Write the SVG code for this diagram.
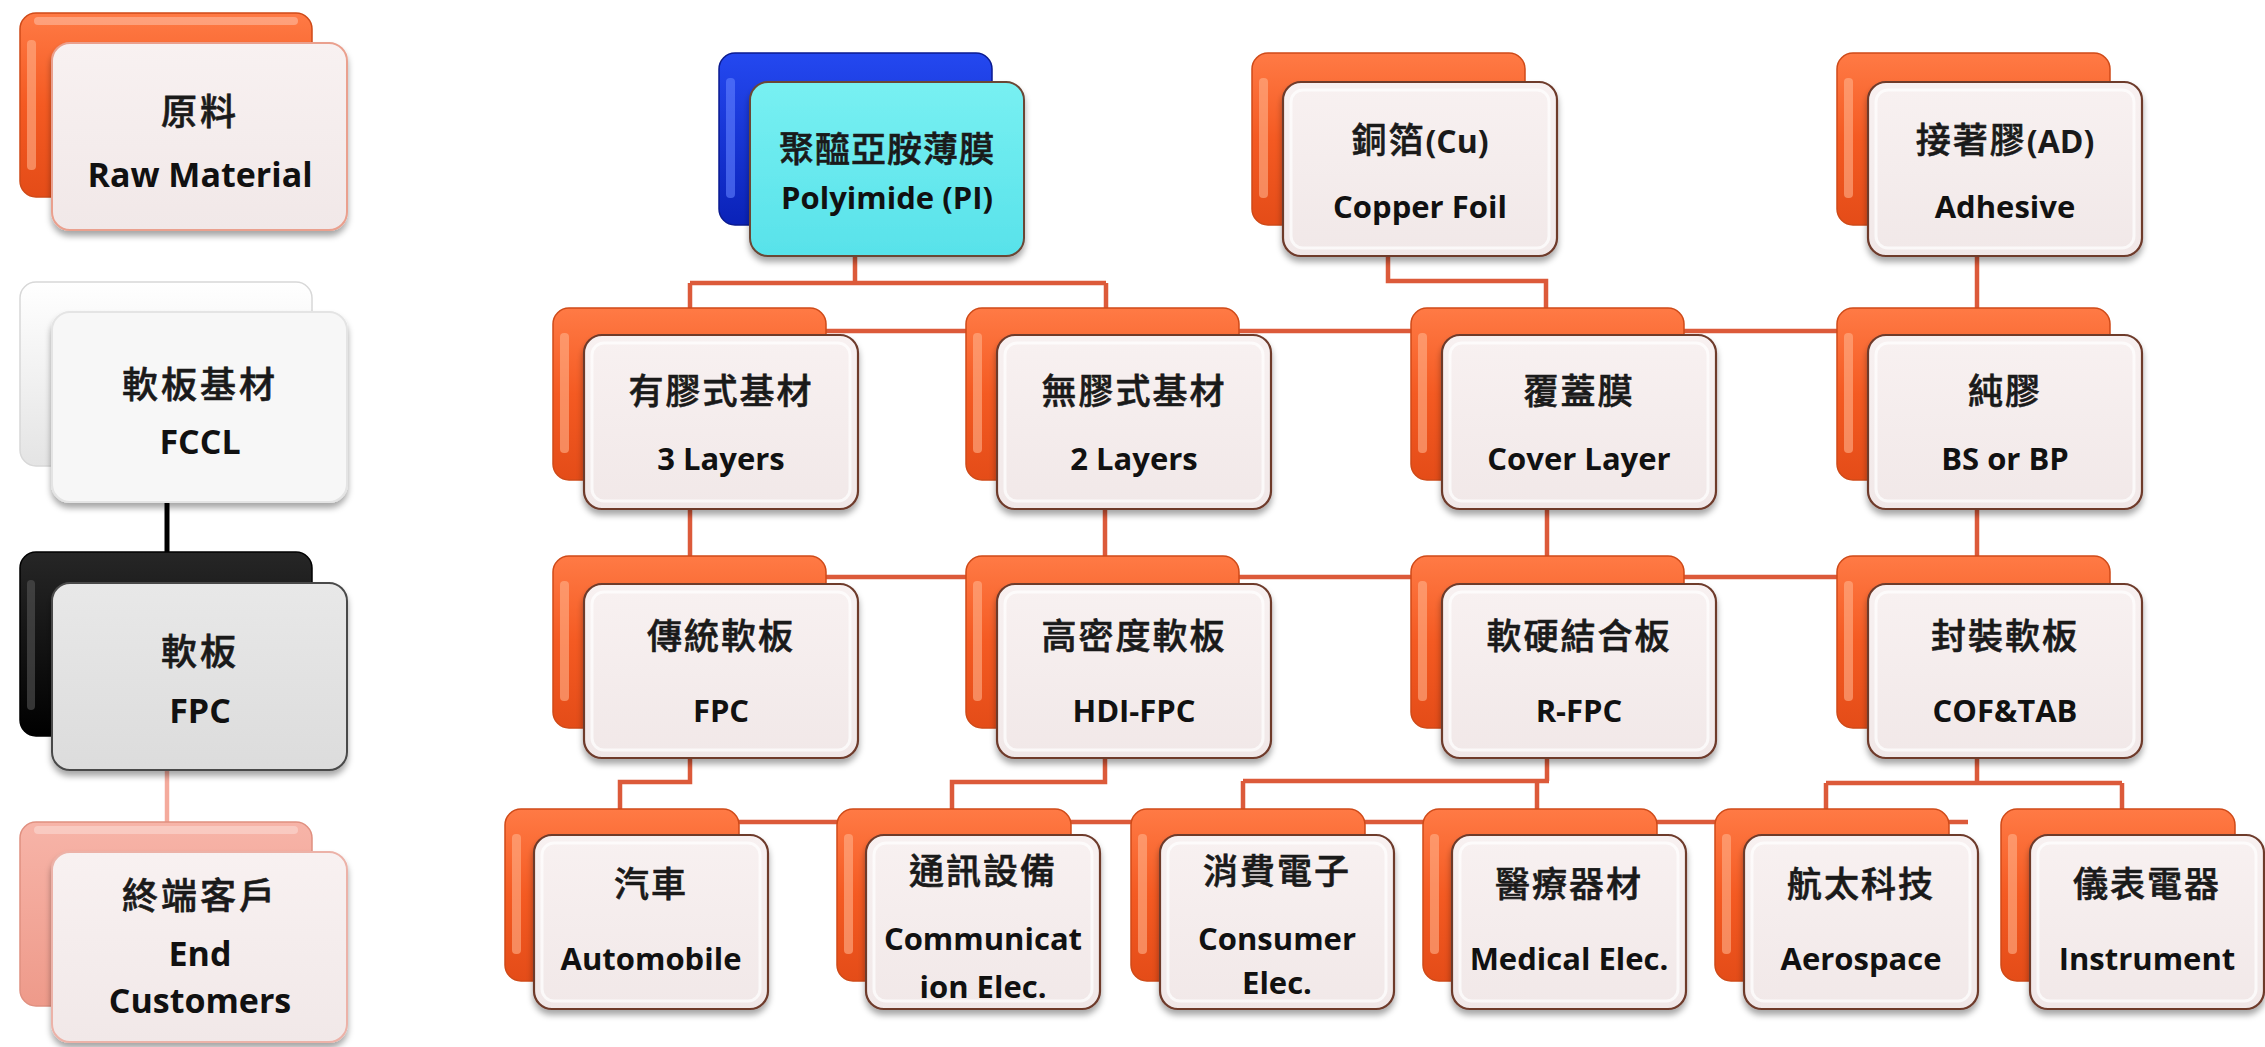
<svg xmlns="http://www.w3.org/2000/svg" width="2265" height="1047" viewBox="0 0 2265 1047">
<defs>
<linearGradient id="gO" x1="0" y1="0" x2="0" y2="1"><stop offset="0" stop-color="#ff7a45"/><stop offset="0.5" stop-color="#f45a22"/><stop offset="1" stop-color="#e44c18"/></linearGradient>
<linearGradient id="gB" x1="0" y1="0" x2="0" y2="1"><stop offset="0" stop-color="#2448f0"/><stop offset="1" stop-color="#0a22b8"/></linearGradient>
<linearGradient id="gW" x1="0" y1="0" x2="0" y2="1"><stop offset="0" stop-color="#ffffff"/><stop offset="1" stop-color="#e4e4e4"/></linearGradient>
<linearGradient id="gK" x1="0" y1="0" x2="0" y2="1"><stop offset="0" stop-color="#262626"/><stop offset="1" stop-color="#000000"/></linearGradient>
<linearGradient id="gP" x1="0" y1="0" x2="0" y2="1"><stop offset="0" stop-color="#f7b4a8"/><stop offset="1" stop-color="#ee9a8a"/></linearGradient>
<linearGradient id="gF" x1="0" y1="0" x2="0" y2="1"><stop offset="0" stop-color="#f8f1f1"/><stop offset="1" stop-color="#f1e8e8"/></linearGradient>
<linearGradient id="gC" x1="0" y1="0" x2="0" y2="1"><stop offset="0" stop-color="#78f0f2"/><stop offset="1" stop-color="#58e2ea"/></linearGradient>
<linearGradient id="gG" x1="0" y1="0" x2="0" y2="1"><stop offset="0" stop-color="#e8e8e8"/><stop offset="1" stop-color="#dcdcdc"/></linearGradient>
<filter id="sh" x="-10%" y="-10%" width="120%" height="130%"><feDropShadow dx="0" dy="5" stdDeviation="3" flood-color="#000" flood-opacity="0.35"/></filter>
</defs>
<style>
.bo{fill:url(#gO);stroke:#cf4a18;stroke-width:1.5}
.bb{fill:url(#gB);stroke:#0a1a90;stroke-width:1.5}
.bw{fill:url(#gW);stroke:#d8d8d8;stroke-width:1.5}
.bk{fill:url(#gK);stroke:#000;stroke-width:1.5}
.bp{fill:url(#gP);stroke:#e09080;stroke-width:1.5}
.hl{fill:#ffffff;opacity:0.3}
.hs{fill:#ffb08a;opacity:0.6}
.f{fill:url(#gF);stroke:#6e3a2c;stroke-width:2.2;filter:url(#sh)}
.fc{fill:url(#gC);stroke:#6a4636;stroke-width:2;filter:url(#sh)}
.fr{fill:url(#gF);stroke:#eaa08e;stroke-width:2;filter:url(#sh)}
.fw{fill:#f7f7f7;stroke:#e4e4e4;stroke-width:2;filter:url(#sh)}
.fg{fill:url(#gG);stroke:#4a4a4a;stroke-width:2;filter:url(#sh)}
.fp{fill:url(#gF);stroke:#ecb2a8;stroke-width:2;filter:url(#sh)}
.in{fill:none;stroke:#ffffff;stroke-width:3;opacity:0.7}
.zh{font-family:"Noto Sans CJK TC","Noto Sans CJK SC",sans-serif;font-size:35px;font-weight:500;fill:#1a1a1a;stroke:#1a1a1a;stroke-width:0.6;text-anchor:middle;letter-spacing:2px}
.zl{font-family:"Noto Sans CJK TC","Noto Sans CJK SC",sans-serif;font-size:36px;font-weight:500;fill:#1a1a1a;stroke:#1a1a1a;stroke-width:0.6;text-anchor:middle;letter-spacing:3px}
.en{font-family:"Open Sans","Liberation Sans",sans-serif;font-weight:700;font-size:31px;fill:#111;text-anchor:middle}
.el{font-family:"Open Sans","Liberation Sans",sans-serif;font-weight:700;font-size:34px;fill:#111;text-anchor:middle}
.lat{font-family:"Open Sans","Liberation Sans",sans-serif;font-weight:700;font-size:32px;letter-spacing:0;stroke:none}
.cn{fill:none;stroke:#dc5a3a;stroke-width:4.5}
</style>
<rect width="2265" height="1047" fill="#ffffff"/>

<g id="connectors">
<path class="cn" d="M855 255 V283 M690 283 H1106 M690 283 V310 M1106 283 V310"/>
<path class="cn" d="M1388 255 V281 H1546 V310"/>
<path class="cn" d="M1977 255 V310"/>
<path class="cn" d="M800 331 H1860"/>
<path class="cn" d="M690 509 V558 M1105 509 V558 M1547 509 V558 M1977 509 V558"/>
<path class="cn" d="M800 577 H1860"/>
<path class="cn" d="M690 758 V782 H620 V811"/>
<path class="cn" d="M1105 758 V782 H952 V811"/>
<path class="cn" d="M1547 758 V781 M1243 781 H1549 M1243 781 V811 M1537 781 V811"/>
<path class="cn" d="M1977 758 V783 M1826 783 H2122 M1826 783 V811 M2122 783 V811"/>
<path class="cn" d="M694 822 H1968"/>
<path d="M167 500 V554" fill="none" stroke="#000" stroke-width="5"/>
<path d="M167 770 V824" fill="none" stroke="#f4aa9c" stroke-width="4.5"/>
</g>

<g id="n-raw">
<rect class="bo" x="20" y="13" width="292" height="184" rx="16"/>
<rect class="hs" x="27" y="40" width="9" height="130" rx="4"/><rect class="hl" x="34" y="17" width="264" height="8" rx="4"/>
<rect class="fr" x="52" y="43" width="295" height="187" rx="18"/>
<text class="zl" x="200" y="125">原料</text>
<text class="el" x="200" y="187">Raw Material</text>
</g>
<g id="n-fccl">
<rect class="bw" x="20" y="282" width="292" height="184" rx="16"/>
<rect class="fw" x="52" y="312" width="295" height="190" rx="18"/>
<text class="zl" x="200" y="398">軟板基材</text>
<text class="el" x="200" y="454">FCCL</text>
</g>
<g id="n-fpc-level">
<rect class="bk" x="20" y="552" width="292" height="184" rx="16"/>
<rect x="27" y="580" width="8" height="130" rx="4" fill="#555" opacity="0.6"/>
<rect class="fg" x="52" y="583" width="295" height="187" rx="18"/>
<text class="zl" x="200" y="665">軟板</text>
<text class="el" x="200" y="723">FPC</text>
</g>
<g id="n-end">
<rect class="bp" x="20" y="822" width="292" height="184" rx="16"/>
<rect class="hl" x="34" y="826" width="264" height="8" rx="4"/>
<rect class="fp" x="52" y="852" width="295" height="190" rx="18"/>
<text class="zl" x="200" y="909">終端客戶</text>
<text class="el" x="200" y="966">End</text>
<text class="el" x="200" y="1013">Customers</text>
</g>

<g id="n-pi">
<rect class="bb" x="719" y="53" width="273" height="172" rx="16"/>
<rect x="726" y="78" width="9" height="120" rx="4" fill="#6080ff" opacity="0.6"/>
<rect class="fc" x="750" y="82" width="274" height="174" rx="18"/>
<text class="zh" x="887" y="162" style="letter-spacing:1px">聚醯亞胺薄膜</text>
<text class="en" x="887" y="209">Polyimide (PI)</text>
</g>
<g id="n-cu">
<rect class="bo" x="1252" y="53" width="273" height="172" rx="16"/>
<rect class="hs" x="1259" y="78" width="9" height="120" rx="4"/>
<rect class="f" x="1283" y="82" width="274" height="174" rx="18"/>
<rect class="in" x="1291" y="90" width="258" height="158" rx="12"/>
<text class="zh" x="1420" y="153">銅箔<tspan class="lat">(Cu)</tspan></text>
<text class="en" x="1420" y="218">Copper Foil</text>
</g>
<g id="n-ad">
<rect class="bo" x="1837" y="53" width="273" height="172" rx="16"/>
<rect class="hs" x="1844" y="78" width="9" height="120" rx="4"/>
<rect class="f" x="1868" y="82" width="274" height="174" rx="18"/>
<rect class="in" x="1876" y="90" width="258" height="158" rx="12"/>
<text class="zh" x="2005" y="153">接著膠<tspan class="lat">(AD)</tspan></text>
<text class="en" x="2005" y="218">Adhesive</text>
</g>

<g id="n-3layers">
<rect class="bo" x="553" y="308" width="273" height="172" rx="16"/>
<rect class="hs" x="560" y="333" width="9" height="120" rx="4"/>
<rect class="f" x="584" y="335" width="274" height="174" rx="18"/>
<rect class="in" x="592" y="343" width="258" height="158" rx="12"/>
<text class="zh" x="721" y="404">有膠式基材</text>
<text class="en" x="721" y="470">3 Layers</text>
</g>
<g id="n-2layers">
<rect class="bo" x="966" y="308" width="273" height="172" rx="16"/>
<rect class="hs" x="973" y="333" width="9" height="120" rx="4"/>
<rect class="f" x="997" y="335" width="274" height="174" rx="18"/>
<rect class="in" x="1005" y="343" width="258" height="158" rx="12"/>
<text class="zh" x="1134" y="404">無膠式基材</text>
<text class="en" x="1134" y="470">2 Layers</text>
</g>
<g id="n-cover">
<rect class="bo" x="1411" y="308" width="273" height="172" rx="16"/>
<rect class="hs" x="1418" y="333" width="9" height="120" rx="4"/>
<rect class="f" x="1442" y="335" width="274" height="174" rx="18"/>
<rect class="in" x="1450" y="343" width="258" height="158" rx="12"/>
<text class="zh" x="1579" y="404">覆蓋膜</text>
<text class="en" x="1579" y="470">Cover Layer</text>
</g>
<g id="n-bs">
<rect class="bo" x="1837" y="308" width="273" height="172" rx="16"/>
<rect class="hs" x="1844" y="333" width="9" height="120" rx="4"/>
<rect class="f" x="1868" y="335" width="274" height="174" rx="18"/>
<rect class="in" x="1876" y="343" width="258" height="158" rx="12"/>
<text class="zh" x="2005" y="404">純膠</text>
<text class="en" x="2005" y="470">BS or BP</text>
</g>

<g id="n-fpc">
<rect class="bo" x="553" y="556" width="273" height="172" rx="16"/>
<rect class="hs" x="560" y="581" width="9" height="120" rx="4"/>
<rect class="f" x="584" y="584" width="274" height="174" rx="18"/>
<rect class="in" x="592" y="592" width="258" height="158" rx="12"/>
<text class="zh" x="721" y="649">傳統軟板</text>
<text class="en" x="721" y="722">FPC</text>
</g>
<g id="n-hdi">
<rect class="bo" x="966" y="556" width="273" height="172" rx="16"/>
<rect class="hs" x="973" y="581" width="9" height="120" rx="4"/>
<rect class="f" x="997" y="584" width="274" height="174" rx="18"/>
<rect class="in" x="1005" y="592" width="258" height="158" rx="12"/>
<text class="zh" x="1134" y="649">高密度軟板</text>
<text class="en" x="1134" y="722">HDI-FPC</text>
</g>
<g id="n-rfpc">
<rect class="bo" x="1411" y="556" width="273" height="172" rx="16"/>
<rect class="hs" x="1418" y="581" width="9" height="120" rx="4"/>
<rect class="f" x="1442" y="584" width="274" height="174" rx="18"/>
<rect class="in" x="1450" y="592" width="258" height="158" rx="12"/>
<text class="zh" x="1579" y="649">軟硬結合板</text>
<text class="en" x="1579" y="722">R-FPC</text>
</g>
<g id="n-cof">
<rect class="bo" x="1837" y="556" width="273" height="172" rx="16"/>
<rect class="hs" x="1844" y="581" width="9" height="120" rx="4"/>
<rect class="f" x="1868" y="584" width="274" height="174" rx="18"/>
<rect class="in" x="1876" y="592" width="258" height="158" rx="12"/>
<text class="zh" x="2005" y="649">封裝軟板</text>
<text class="en" x="2005" y="722">COF&amp;TAB</text>
</g>

<g id="n-auto">
<rect class="bo" x="505" y="809" width="234" height="172" rx="16"/>
<rect class="hs" x="512" y="834" width="9" height="120" rx="4"/>
<rect class="f" x="534" y="835" width="234" height="174" rx="18"/>
<rect class="in" x="542" y="843" width="218" height="158" rx="12"/>
<text class="zh" x="651" y="897">汽車</text>
<text class="en" x="651" y="970">Automobile</text>
</g>
<g id="n-comm">
<rect class="bo" x="837" y="809" width="234" height="172" rx="16"/>
<rect class="hs" x="844" y="834" width="9" height="120" rx="4"/>
<rect class="f" x="866" y="835" width="234" height="174" rx="18"/>
<rect class="in" x="874" y="843" width="218" height="158" rx="12"/>
<text class="zh" x="983" y="884">通訊設備</text>
<text class="en" x="983" y="950">Communicat</text>
<text class="en" x="983" y="998">ion Elec.</text>
</g>
<g id="n-cons">
<rect class="bo" x="1131" y="809" width="234" height="172" rx="16"/>
<rect class="hs" x="1138" y="834" width="9" height="120" rx="4"/>
<rect class="f" x="1160" y="835" width="234" height="174" rx="18"/>
<rect class="in" x="1168" y="843" width="218" height="158" rx="12"/>
<text class="zh" x="1277" y="884">消費電子</text>
<text class="en" x="1277" y="950">Consumer</text>
<text class="en" x="1277" y="994">Elec.</text>
</g>
<g id="n-med">
<rect class="bo" x="1423" y="809" width="234" height="172" rx="16"/>
<rect class="hs" x="1430" y="834" width="9" height="120" rx="4"/>
<rect class="f" x="1452" y="835" width="234" height="174" rx="18"/>
<rect class="in" x="1460" y="843" width="218" height="158" rx="12"/>
<text class="zh" x="1569" y="897">醫療器材</text>
<text class="en" x="1569" y="970">Medical Elec.</text>
</g>
<g id="n-aero">
<rect class="bo" x="1715" y="809" width="234" height="172" rx="16"/>
<rect class="hs" x="1722" y="834" width="9" height="120" rx="4"/>
<rect class="f" x="1744" y="835" width="234" height="174" rx="18"/>
<rect class="in" x="1752" y="843" width="218" height="158" rx="12"/>
<text class="zh" x="1861" y="897">航太科技</text>
<text class="en" x="1861" y="970">Aerospace</text>
</g>
<g id="n-inst">
<rect class="bo" x="2001" y="809" width="234" height="172" rx="16"/>
<rect class="hs" x="2008" y="834" width="9" height="120" rx="4"/>
<rect class="f" x="2030" y="835" width="234" height="174" rx="18"/>
<rect class="in" x="2038" y="843" width="218" height="158" rx="12"/>
<text class="zh" x="2147" y="897">儀表電器</text>
<text class="en" x="2147" y="970">Instrument</text>
</g>
</svg>
